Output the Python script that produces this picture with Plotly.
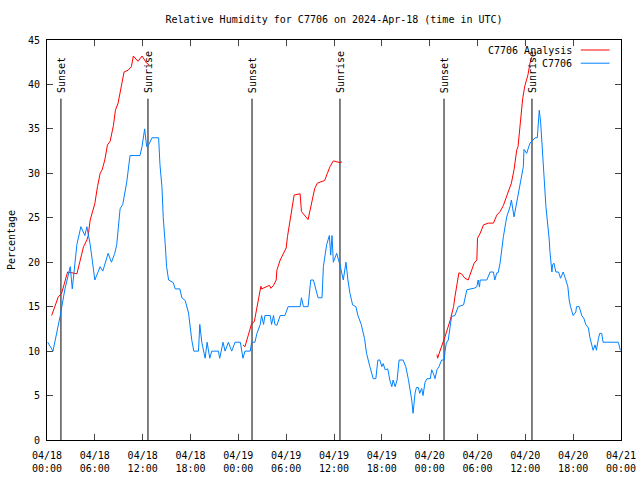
import plotly.graph_objects as go

# ---------------- data ----------------
obs_time = [
    "2024-04-18 00:05", "2024-04-18 00:45", "2024-04-18 01:40", "2024-04-18 02:15", "2024-04-18 02:55",
    "2024-04-18 03:10", "2024-04-18 03:45", "2024-04-18 04:15", "2024-04-18 04:45", "2024-04-18 05:00",
    "2024-04-18 05:25", "2024-04-18 06:00", "2024-04-18 06:40", "2024-04-18 07:00", "2024-04-18 07:40",
    "2024-04-18 08:05", "2024-04-18 08:30", "2024-04-18 08:45", "2024-04-18 09:10", "2024-04-18 09:30",
    "2024-04-18 10:00", "2024-04-18 10:25", "2024-04-18 11:40", "2024-04-18 11:55", "2024-04-18 12:15",
    "2024-04-18 12:30", "2024-04-18 12:45", "2024-04-18 13:10", "2024-04-18 14:00", "2024-04-18 14:10",
    "2024-04-18 14:25", "2024-04-18 14:35", "2024-04-18 14:50", "2024-04-18 15:00", "2024-04-18 15:15",
    "2024-04-18 15:50", "2024-04-18 16:05", "2024-04-18 16:40", "2024-04-18 16:55", "2024-04-18 17:20",
    "2024-04-18 17:45", "2024-04-18 17:55", "2024-04-18 18:10", "2024-04-18 18:25", "2024-04-18 19:00",
    "2024-04-18 19:10", "2024-04-18 19:25", "2024-04-18 19:50", "2024-04-18 20:05", "2024-04-18 20:25",
    "2024-04-18 20:40", "2024-04-18 21:30", "2024-04-18 21:40", "2024-04-18 22:05", "2024-04-18 22:20",
    "2024-04-18 22:45", "2024-04-18 23:10", "2024-04-18 23:35",
    "2024-04-19 00:15", "2024-04-19 00:35", "2024-04-19 00:50", "2024-04-19 01:30", "2024-04-19 01:40",
    "2024-04-19 02:05", "2024-04-19 02:20", "2024-04-19 02:45", "2024-04-19 02:55", "2024-04-19 03:10",
    "2024-04-19 03:20", "2024-04-19 04:00", "2024-04-19 04:10", "2024-04-19 04:25", "2024-04-19 04:35",
    "2024-04-19 04:50", "2024-04-19 05:15", "2024-04-19 05:50", "2024-04-19 06:15", "2024-04-19 07:45",
    "2024-04-19 07:55", "2024-04-19 08:10", "2024-04-19 08:45", "2024-04-19 09:05", "2024-04-19 09:25",
    "2024-04-19 10:00", "2024-04-19 10:30", "2024-04-19 10:40", "2024-04-19 11:05", "2024-04-19 11:25",
    "2024-04-19 11:35", "2024-04-19 11:45", "2024-04-19 11:55", "2024-04-19 12:20", "2024-04-19 12:45",
    "2024-04-19 13:10", "2024-04-19 13:30", "2024-04-19 13:45", "2024-04-19 14:00", "2024-04-19 14:20",
    "2024-04-19 14:45", "2024-04-19 15:00", "2024-04-19 15:25", "2024-04-19 15:50", "2024-04-19 16:05",
    "2024-04-19 16:30", "2024-04-19 16:55", "2024-04-19 17:15", "2024-04-19 17:30", "2024-04-19 17:45",
    "2024-04-19 18:00", "2024-04-19 18:10", "2024-04-19 18:25", "2024-04-19 18:45", "2024-04-19 19:00",
    "2024-04-19 19:15", "2024-04-19 19:25", "2024-04-19 19:40", "2024-04-19 19:55", "2024-04-19 20:10",
    "2024-04-19 20:40", "2024-04-19 21:00", "2024-04-19 21:20", "2024-04-19 21:45", "2024-04-19 21:55",
    "2024-04-19 22:10", "2024-04-19 22:20", "2024-04-19 22:35", "2024-04-19 22:45", "2024-04-19 23:00",
    "2024-04-19 23:10", "2024-04-19 23:25", "2024-04-19 23:40",
    "2024-04-20 00:05", "2024-04-20 00:15", "2024-04-20 00:30", "2024-04-20 00:40", "2024-04-20 00:55",
    "2024-04-20 01:10", "2024-04-20 01:30", "2024-04-20 01:50", "2024-04-20 01:55", "2024-04-20 02:05",
    "2024-04-20 02:20", "2024-04-20 02:45", "2024-04-20 03:10", "2024-04-20 03:35", "2024-04-20 04:15",
    "2024-04-20 04:40", "2024-04-20 05:40", "2024-04-20 05:55", "2024-04-20 06:05", "2024-04-20 06:15",
    "2024-04-20 06:20", "2024-04-20 07:10", "2024-04-20 07:35", "2024-04-20 08:00", "2024-04-20 08:10",
    "2024-04-20 08:25", "2024-04-20 08:35", "2024-04-20 08:50", "2024-04-20 09:15", "2024-04-20 09:40",
    "2024-04-20 10:05", "2024-04-20 10:15", "2024-04-20 10:35", "2024-04-20 10:55", "2024-04-20 11:15",
    "2024-04-20 11:25", "2024-04-20 11:45", "2024-04-20 11:50", "2024-04-20 12:10", "2024-04-20 12:35",
    "2024-04-20 12:55", "2024-04-20 13:15", "2024-04-20 13:30", "2024-04-20 13:40", "2024-04-20 13:45",
    "2024-04-20 13:55", "2024-04-20 14:05", "2024-04-20 14:10", "2024-04-20 14:20", "2024-04-20 14:30",
    "2024-04-20 14:35", "2024-04-20 14:45", "2024-04-20 14:55", "2024-04-20 15:00", "2024-04-20 15:05",
    "2024-04-20 15:20", "2024-04-20 15:25", "2024-04-20 15:35", "2024-04-20 15:50", "2024-04-20 16:10",
    "2024-04-20 16:25", "2024-04-20 16:45", "2024-04-20 17:05", "2024-04-20 17:20", "2024-04-20 17:30",
    "2024-04-20 17:40", "2024-04-20 18:00", "2024-04-20 18:20", "2024-04-20 18:25", "2024-04-20 18:45",
    "2024-04-20 19:05", "2024-04-20 19:20", "2024-04-20 19:35", "2024-04-20 19:55", "2024-04-20 20:05",
    "2024-04-20 20:20", "2024-04-20 20:30", "2024-04-20 20:45", "2024-04-20 20:55", "2024-04-20 21:10",
    "2024-04-20 21:20", "2024-04-20 21:35", "2024-04-20 21:45", "2024-04-20 23:40", "2024-04-20 23:55",
]
obs_rh = [
    11, 10, 14, 17, 19.5, 17, 22, 24, 23, 24,
    22, 18, 19.5, 19, 21, 20, 21, 22, 26, 26.5,
    29, 32, 32, 33, 35, 33, 33.2, 34, 34, 31,
    28.5, 25, 22, 19.5, 18, 17.7, 17, 17, 16, 15.7,
    14.3, 12.7, 11.2, 10, 10, 13, 11, 9.2, 11, 9.2,
    10, 10, 9.2, 11, 10, 11, 10, 11,
    11, 9.2, 10, 10, 11, 11, 12, 13, 14, 13,
    14, 14, 13, 14, 13, 12.9, 14, 14, 15, 15,
    16, 15, 15, 18, 18, 16, 16, 19.5, 22, 23,
    20.8, 23, 20, 21, 19.7, 18, 20, 18, 16.5, 15.2,
    15, 14, 13, 11.4, 9.75, 8.25, 6.9, 6.9, 9, 9,
    8.25, 8.6, 7.9, 8, 6.75, 6, 6.75, 6, 6.75, 9,
    9, 8.25, 6.8, 4.5, 3, 5.25, 5.9, 5.9, 5.25, 5.8,
    5, 6.5, 6.9,
    6.9, 7.9, 7.4, 6.9, 7.9, 8.25, 9, 9, 9.9, 10.9,
    11.25, 13.9, 14, 15, 15.2, 16.9, 17.1, 17.25, 18, 17.2,
    18, 18, 18.9, 18.9, 18, 18.8, 18.8, 19.9, 22.9, 25.1,
    26.25, 27, 25.1, 26.6, 28.5, 29, 30.75, 32.7, 32.25, 33.4,
    33.75, 34, 34, 36.4, 37.1, 35.8, 33.4, 31.5, 29.25, 27.75,
    26.25, 24.75, 23.4, 22.5, 21.2, 18.9, 19.7, 19.9, 18.9, 18.9,
    18.2, 18.9, 18, 17.25, 15.75, 15, 14, 14.4, 15, 15,
    14, 13.7, 13, 12.6, 11.6, 10.5, 10.1, 10.7, 10.1, 11.4,
    12, 12, 11, 11, 10.1,
]

ana_time = [
    "2024-04-18 00:35", "2024-04-18 00:55", "2024-04-18 01:25", "2024-04-18 01:50", "2024-04-18 02:15",
    "2024-04-18 02:35", "2024-04-18 03:45", "2024-04-18 04:10", "2024-04-18 04:35", "2024-04-18 05:00",
    "2024-04-18 05:10", "2024-04-18 05:25", "2024-04-18 05:50", "2024-04-18 06:00", "2024-04-18 06:20",
    "2024-04-18 06:40", "2024-04-18 06:55", "2024-04-18 07:15", "2024-04-18 07:35", "2024-04-18 07:55",
    "2024-04-18 08:20", "2024-04-18 08:35", "2024-04-18 08:55", "2024-04-18 09:20", "2024-04-18 09:40",
    "2024-04-18 10:10", "2024-04-18 10:35", "2024-04-18 10:50", "2024-04-18 11:25", "2024-04-18 11:55",
    "2024-04-18 12:30", "2024-04-18 12:50",
    None,
    "2024-04-19 00:35", "2024-04-19 00:50", "2024-04-19 01:15", "2024-04-19 01:40", "2024-04-19 02:00",
    "2024-04-19 02:20", "2024-04-19 02:40", "2024-04-19 02:50", "2024-04-19 02:55", "2024-04-19 03:35",
    "2024-04-19 03:55", "2024-04-19 04:05", "2024-04-19 04:25", "2024-04-19 04:45", "2024-04-19 04:50",
    "2024-04-19 05:15", "2024-04-19 05:40", "2024-04-19 06:00", "2024-04-19 06:10", "2024-04-19 06:25",
    "2024-04-19 06:40", "2024-04-19 07:00", "2024-04-19 07:45", "2024-04-19 07:55", "2024-04-19 08:45",
    "2024-04-19 09:10", "2024-04-19 09:35", "2024-04-19 09:55", "2024-04-19 10:50", "2024-04-19 11:10",
    "2024-04-19 11:30", "2024-04-19 11:55", "2024-04-19 12:20", "2024-04-19 12:45", "2024-04-19 13:00",
    None,
    "2024-04-20 00:55", "2024-04-20 01:00", "2024-04-20 01:15", "2024-04-20 01:35", "2024-04-20 01:55",
    "2024-04-20 02:35", "2024-04-20 03:00", "2024-04-20 03:10", "2024-04-20 03:25", "2024-04-20 03:40",
    "2024-04-20 04:00", "2024-04-20 04:25", "2024-04-20 04:50", "2024-04-20 05:15", "2024-04-20 05:35",
    "2024-04-20 05:55", "2024-04-20 06:00", "2024-04-20 06:20", "2024-04-20 06:45", "2024-04-20 07:20",
    "2024-04-20 08:00", "2024-04-20 08:25", "2024-04-20 08:50", "2024-04-20 09:15", "2024-04-20 09:40",
    "2024-04-20 09:50", "2024-04-20 10:15", "2024-04-20 10:35", "2024-04-20 10:55", "2024-04-20 11:05",
    "2024-04-20 11:20", "2024-04-20 11:40", "2024-04-20 11:55", "2024-04-20 12:20", "2024-04-20 12:35",
    "2024-04-20 12:50",
]
ana_rh = [
    14, 14.8, 16.1, 16.5, 18, 18.9, 18.7, 20.25, 21.75, 22.5,
    23, 24.75, 25.9, 26.6, 28.5, 30, 30.4, 31.5, 33.2, 33.6,
    35.4, 37.1, 37.9, 39.75, 41.4, 41.6, 42, 43.2, 42.6, 43.2,
    42.4, 42.2,
    None,
    10.7, 10.5, 11.8, 13.1, 13.3, 15, 16.9, 17.3, 17, 17.3,
    17.4, 17.06, 17.4, 18, 19.1, 20.25, 21, 21.6, 22.9, 24.4,
    26, 27.56, 27.7, 25.7, 24.8, 26.6, 28.3, 28.9, 29.2, 30,
    30.75, 31.4, 31.3, 31.2, 31.3,
    None,
    9.6, 9.2, 9.9, 10.7, 11.6, 13.5, 15, 16.1, 17.6, 18.8,
    18.7, 18.2, 18, 19.1, 19.9, 20.25, 22.7, 23.25, 24.2, 24.4,
    24.4, 25.3, 25.7, 26.4, 27.4, 27.75, 28.9, 30.4, 32.6, 33,
    35.6, 38.4, 39.75, 41.1, 42.4, 43.1,
]

sunset_times = ["2024-04-18 01:45", "2024-04-19 01:43", "2024-04-20 01:48"]
sunrise_times = ["2024-04-18 12:40", "2024-04-19 12:45", "2024-04-20 12:50"]
event_line_top = 38.4

tick_vals = ["2024-04-18 00:00", "2024-04-18 06:00", "2024-04-18 12:00", "2024-04-18 18:00",
             "2024-04-19 00:00", "2024-04-19 06:00", "2024-04-19 12:00", "2024-04-19 18:00",
             "2024-04-20 00:00", "2024-04-20 06:00", "2024-04-20 12:00", "2024-04-20 18:00",
             "2024-04-21 00:00"]
tick_text = ["04/18<br>00:00", "04/18<br>06:00", "04/18<br>12:00", "04/18<br>18:00",
             "04/19<br>00:00", "04/19<br>06:00", "04/19<br>12:00", "04/19<br>18:00",
             "04/20<br>00:00", "04/20<br>06:00", "04/20<br>12:00", "04/20<br>18:00",
             "04/21<br>00:00"]

series_names = ["C7706 Analysis", "C7706"]
series_colors = ["#ff0000", "#0080ff"]

FONT = "DejaVu Sans Mono"
FIG_W, FIG_H = 640, 480

fig = go.Figure()

# event (sunset / sunrise) vertical lines
for t in sunset_times + sunrise_times:
    fig.add_trace(go.Scatter(x=[t, t], y=[0, event_line_top], mode="lines",
                             line=dict(color="black", width=1), showlegend=False,
                             hoverinfo="skip"))

fig.add_trace(go.Scatter(x=ana_time, y=ana_rh, mode="lines", name=series_names[0],
                         line=dict(color=series_colors[0], width=1), connectgaps=False,
                         showlegend=False))
fig.add_trace(go.Scatter(x=obs_time, y=obs_rh, mode="lines", name=series_names[1],
                         line=dict(color=series_colors[1], width=1), showlegend=False))

annotations = []
for t in sunset_times:
    annotations.append(dict(x=t, y=event_line_top + 0.4, xref="x", yref="y", text="Sunset",
                            textangle=-90, showarrow=False, xanchor="center", yanchor="bottom",
                            font=dict(family=FONT, size=10, color="black")))
for t in sunrise_times:
    annotations.append(dict(x=t, y=event_line_top + 0.4, xref="x", yref="y", text="Sunrise",
                            textangle=-90, showarrow=False, xanchor="center", yanchor="bottom",
                            font=dict(family=FONT, size=10, color="black")))

# legend (gnuplot style: text left of sample)
leg_y = [0.975, 0.942]
for name, color, ly in zip(series_names, series_colors, leg_y):
    annotations.append(dict(x=0.918, y=ly, xref="paper", yref="paper", text=name,
                            showarrow=False, xanchor="right", yanchor="middle",
                            font=dict(family=FONT, size=10, color="black")))
shapes = []
for color, ly in zip(series_colors, leg_y):
    shapes.append(dict(type="line", xref="paper", yref="paper", x0=0.93, x1=0.98,
                       y0=ly, y1=ly, line=dict(color=color, width=1)))

fig.update_layout(
    width=FIG_W, height=FIG_H,
    margin=dict(l=47, r=19, t=40, b=40, autoexpand=False),
    paper_bgcolor="white", plot_bgcolor="white",
    font=dict(family=FONT, size=10, color="black"),
    title=dict(text="Relative Humidity for C7706 on 2024-Apr-18 (time in UTC)",
               x=0.5, xanchor="center", xref="paper", y=1 - 19 / FIG_H, yref="container",
               yanchor="middle", font=dict(family=FONT, size=10, color="black")),
    annotations=annotations,
    shapes=shapes,
    showlegend=False,
)
fig.update_xaxes(type="date", range=["2024-04-18 00:00", "2024-04-21 00:00"],
                 tickvals=tick_vals, ticktext=tick_text, ticks="inside", ticklen=6,
                 ticklabelstandoff=6, ticklabeloverflow="allow", automargin=False,
                 showline=True, linecolor="black", linewidth=1, mirror="ticks",
                 showgrid=False, zeroline=False, tickfont=dict(family=FONT, size=10))
fig.update_yaxes(range=[0, 45], dtick=5, tick0=0, ticks="inside", ticklen=6,
                 ticklabelstandoff=4, automargin=False,
                 showline=True, linecolor="black", linewidth=1, mirror="ticks",
                 showgrid=False, zeroline=False, tickfont=dict(family=FONT, size=10),
                 title=dict(text="Percentage", font=dict(family=FONT, size=10), standoff=10))

# remove the page's default body margin so the 640x480 figure fills the window exactly
fig.write_html("out.html", config={"displayModeBar": False},
               post_script="document.body.style.margin='0';document.body.style.overflow='hidden';")
